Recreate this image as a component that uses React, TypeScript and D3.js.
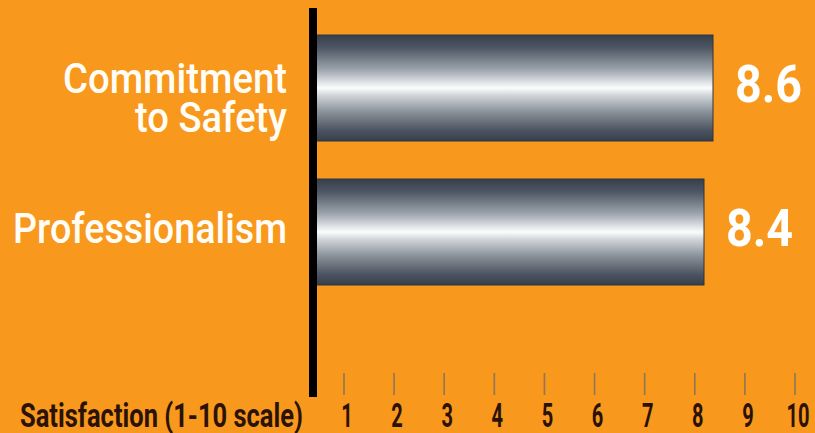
import React from "react";
import * as d3 from "d3";

const categories = ["Commitment to Safety", "Professionalism"];
const categoryLines = [["Commitment", "to Safety"], ["Professionalism"]];
const values = [8.6, 8.4];
const valueLabels = ["8.6", "8.4"];
const tickLabels = ["1", "2", "3", "4", "5", "6", "7", "8", "9", "10"];
const axisTitle = "Satisfaction (1-10 scale)";

const W = 815;
const H = 433;
const BG = "#F8981D";
const FONT = "Roboto, 'Liberation Sans', sans-serif";

export default function App() {
  const y = d3.scaleBand<string>().domain(categories).range([16, 304]).paddingInner(0.264).paddingOuter(0.132);
  const x = d3.scaleLinear().domain([0, 10]).range([326, 776]);
  const xt = d3.scalePoint<string>().domain(tickLabels).range([344, 795]);
  const axisX = 313;
  const barX = 316;

  const catWidths: Record<string, number> = { Commitment: 224, "to Safety": 152, Professionalism: 274 };

  return (
    <svg width={W} height={H} style={{ position: "absolute", left: 0, top: 0 }}>
      <defs>
        <linearGradient id="metal" x1="0" y1="0" x2="0" y2="1">
          <stop offset="0" stopColor="#36404c" />
          <stop offset="0.12" stopColor="#4d5662" />
          <stop offset="0.32" stopColor="#9aa1aa" />
          <stop offset="0.46" stopColor="#e6e9ec" />
          <stop offset="0.5" stopColor="#fbfcfd" />
          <stop offset="0.56" stopColor="#d6dade" />
          <stop offset="0.72" stopColor="#8c939c" />
          <stop offset="0.9" stopColor="#4b5460" />
          <stop offset="1" stopColor="#36404c" />
        </linearGradient>
      </defs>
      <rect x={0} y={0} width={W} height={H} fill={BG} />

      {categories.map((c, i) => {
        const y0 = y(c)!;
        const bw = y.bandwidth();
        const cy = y0 + bw / 2;
        const lines = categoryLines[i];
        return (
          <g key={c}>
            <rect x={barX} y={y0} width={x(values[i]) - barX} height={bw} fill="url(#metal)" stroke="#2e3540" strokeWidth={1} />
            {lines.map((ln, j) => (
              <text
                key={ln}
                x={287}
                y={lines.length === 1 ? cy + 11 : cy + 5 + j * 39}
                textAnchor="end"
                fill="#fffdf6"
                fontFamily={FONT}
                fontWeight={500}
                fontSize={43}
                textLength={catWidths[ln]}
                lengthAdjust="spacingAndGlyphs"
              >
                {ln}
              </text>
            ))}
            <text
              x={x(values[i]) + 22}
              y={cy + 14}
              fill="#ffffff"
              fontFamily={FONT}
              fontWeight="bold"
              fontSize={52}
              textLength={67}
              lengthAdjust="spacingAndGlyphs"
            >
              {valueLabels[i]}
            </text>
          </g>
        );
      })}

      <rect x={axisX - 4} y={8} width={8} height={389} fill="#000" />

      {tickLabels.map((t) => (
        <g key={t}>
          <line x1={xt(t)!} x2={xt(t)!} y1={373} y2={395} stroke="#8f7658" strokeWidth={1.6} />
          <text
            x={xt(t)! + 3}
            y={427}
            textAnchor="middle"
            fill="#2b1206"
            fontFamily={FONT}
            fontWeight="bold"
            fontSize={34}
            textLength={t.length * 11.5}
            lengthAdjust="spacingAndGlyphs"
          >
            {t}
          </text>
        </g>
      ))}

      <text
        x={20}
        y={427}
        fill="#2b1206"
        fontFamily={FONT}
        fontWeight="bold"
        fontSize={33}
        textLength={283}
        lengthAdjust="spacingAndGlyphs"
      >
        {axisTitle}
      </text>
    </svg>
  );
}
